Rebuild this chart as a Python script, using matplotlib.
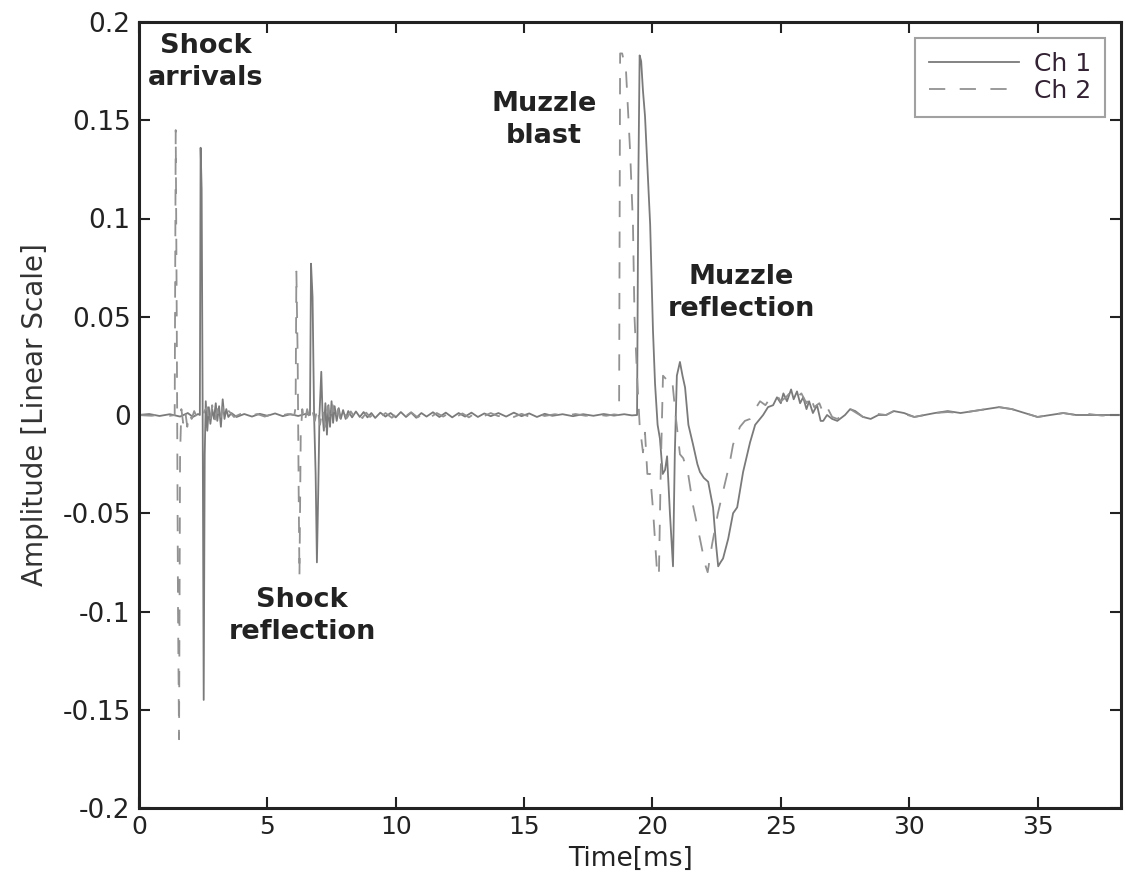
import matplotlib
matplotlib.use("Agg")
import matplotlib.pyplot as plt

# ---------------- data ----------------
ch1_t = [0.00, 0.40, 0.80, 1.20, 1.60, 1.90, 2.10, 2.30,
         2.37, 2.40, 2.44, 2.48, 2.52, 2.56, 2.60, 2.66, 2.72, 2.78, 2.85, 2.92,
         2.99, 3.05, 3.12, 3.19, 3.26, 3.33, 3.40, 3.48, 3.60, 3.80, 4.10, 4.40,
         4.70, 5.00, 5.30, 5.60, 5.90, 6.20, 6.50,
         6.66, 6.70, 6.76, 6.82, 6.88, 6.93, 6.98, 7.03, 7.10, 7.15, 7.20, 7.26,
         7.32, 7.38, 7.44, 7.50, 7.56, 7.62, 7.70, 7.78, 7.86, 7.95, 8.05, 8.15,
         8.30, 8.45, 8.60, 8.75, 8.90, 9.05, 9.20, 9.40, 9.60, 9.80, 10.00, 10.20,
         10.40, 10.60, 10.80, 11.00, 11.20, 11.45, 11.70, 11.95, 12.20, 12.45,
         12.70, 12.95, 13.20, 13.45, 13.70, 14.00, 14.30, 14.60, 14.90, 15.20,
         15.50, 15.80, 16.10, 16.50, 16.90, 17.30, 17.70, 18.10, 18.50, 18.90,
         19.20, 19.40,
         19.45, 19.50, 19.56, 19.63, 19.71, 19.91, 20.02, 20.10, 20.20, 20.29,
         20.40, 20.49, 20.57, 20.68, 20.80, 20.87, 20.95, 21.07, 21.17, 21.27,
         21.40, 21.58, 21.75, 21.85, 22.00, 22.17, 22.36, 22.47, 22.56, 22.65,
         22.75, 22.95, 23.14, 23.30, 23.53, 23.80, 24.00, 24.31, 24.50, 24.70,
         24.85, 25.00, 25.10, 25.24, 25.40, 25.50, 25.63, 25.75, 25.87, 26.00,
         26.10, 26.25, 26.41, 26.55, 26.65, 26.80, 27.00, 27.20, 27.50, 27.70,
         27.90, 28.20, 28.50, 28.80, 29.10, 29.40, 29.80, 30.20, 30.60, 31.00,
         31.50, 32.00, 32.50, 33.00, 33.50, 34.00, 34.50, 35.00, 35.50, 36.00,
         36.50, 37.00, 37.50, 38.25]
ch1_a = [0.0000, 0.0005, -0.0005, 0.0004, -0.0008, 0.0010, -0.0010, 0.0005,
         0.0000, 0.1360, 0.1150, 0.0000, -0.1450, -0.0200, 0.0070, -0.0080, 0.0040, -0.0045, 0.0030, -0.0020,
         0.0060, -0.0030, 0.0045, -0.0060, 0.0080, -0.0020, 0.0030, -0.0010, 0.0010, -0.0010, 0.0005, -0.0008,
         0.0006, -0.0004, 0.0008, -0.0006, 0.0004, -0.0005, 0.0006,
         0.0000, 0.0770, 0.0600, 0.0000, -0.0300, -0.0750, -0.0400, 0.0000, 0.0220, 0.0000, -0.0080, 0.0060,
         -0.0100, 0.0050, -0.0060, 0.0070, -0.0040, 0.0045, -0.0030, 0.0035, -0.0020, 0.0025, -0.0020, 0.0020,
         -0.0012, 0.0018, -0.0010, 0.0015, -0.0012, 0.0010, -0.0015, 0.0012, -0.0008, 0.0010, -0.0012, 0.0015,
         -0.0010, 0.0012, -0.0014, 0.0010, -0.0008, 0.0014, -0.0010, 0.0012, -0.0012, 0.0010,
         -0.0008, 0.0012, -0.0010, 0.0008, -0.0006, 0.0010, -0.0008, 0.0012, -0.0006, 0.0008,
         -0.0010, 0.0006, -0.0004, 0.0004, -0.0006, 0.0004, -0.0004, 0.0005, -0.0003, 0.0004,
         -0.0002, 0.0000,
         0.1200, 0.1830, 0.1800, 0.1650, 0.1520, 0.0970, 0.0430, 0.0160, -0.0050, -0.0120,
         -0.0300, -0.0280, -0.0210, -0.0500, -0.0770, -0.0200, 0.0200, 0.0270, 0.0200, 0.0140,
         -0.0050, -0.0150, -0.0250, -0.0290, -0.0320, -0.0340, -0.0470, -0.0650, -0.0770, -0.0750,
         -0.0730, -0.0630, -0.0500, -0.0470, -0.0290, -0.0140, -0.0050, 0.0000, 0.0040, 0.0050,
         0.0090, 0.0060, 0.0110, 0.0070, 0.0130, 0.0080, 0.0120, 0.0060, 0.0090, 0.0030,
         0.0070, 0.0010, 0.0050, -0.0030, -0.0030, 0.0000, -0.0020, -0.0030, 0.0000, 0.0030,
         0.0020, -0.0010, -0.0020, 0.0000, 0.0000, 0.0020, 0.0010, -0.0010, 0.0000, 0.0010,
         0.0020, 0.0010, 0.0020, 0.0030, 0.0040, 0.0030, 0.0010, -0.0010, 0.0000, 0.0010,
         0.0000, 0.0000, 0.0000, 0.0000]

ch2_t = [0.00, 0.50, 0.90, 1.20, 1.39,
         1.43, 1.47, 1.52, 1.56, 1.60, 1.65, 1.72, 1.80, 1.88, 1.96, 2.05, 2.15,
         2.25, 2.35, 2.45, 2.55, 2.65, 2.75, 2.85, 2.95, 3.05, 3.15, 3.25, 3.35,
         3.50, 3.70, 4.00, 4.30, 4.60, 4.90, 5.20, 5.50, 5.80, 6.05,
         6.10, 6.13, 6.18, 6.22, 6.25, 6.30, 6.36, 6.45, 6.55, 6.65, 6.75, 6.85,
         6.95, 7.05, 7.15, 7.25, 7.35, 7.45, 7.55, 7.65, 7.75, 7.85, 7.95, 8.10,
         8.25, 8.40, 8.55, 8.70, 8.85, 9.00, 9.20, 9.40, 9.60, 9.85, 10.10, 10.35,
         10.60, 10.85, 11.10, 11.35, 11.60, 11.85, 12.10, 12.35, 12.60, 12.85,
         13.10, 13.40, 13.70, 14.00, 14.30, 14.60, 14.90, 15.20, 15.50, 15.80,
         16.20, 16.60, 17.00, 17.40, 17.80, 18.20, 18.50, 18.70,
         18.74, 18.82, 18.97, 19.13, 19.24, 19.30, 19.40, 19.50, 19.63, 19.71,
         19.80, 19.91, 20.02, 20.18, 20.25, 20.32, 20.41, 20.55, 20.76, 20.90,
         21.07, 21.20, 21.39, 21.58, 21.85, 22.05, 22.15, 22.32, 22.55, 22.75,
         22.91, 23.00, 23.14, 23.41, 23.60, 23.80, 24.00, 24.19, 24.40, 24.60,
         24.85, 25.00, 25.20, 25.40, 25.63, 25.80, 26.00, 26.14, 26.30, 26.50,
         26.65, 26.80, 27.00, 27.20, 27.50, 27.70, 27.95, 28.20, 28.50, 28.80,
         29.10, 29.40, 29.80, 30.20, 30.60, 31.00, 31.50, 32.00, 32.50, 33.00,
         33.50, 34.00, 34.50, 35.00, 35.50, 36.00, 36.50, 37.00, 37.50, 38.25]
ch2_a = [0.0000, -0.0004, 0.0005, -0.0004, 0.0000,
         0.1450, 0.0500, -0.1000, -0.1650, -0.0200, 0.0030, -0.0040, 0.0020, -0.0060, 0.0010, -0.0020, 0.0020,
         -0.0010, 0.0005, -0.0015, 0.0020, 0.0040, -0.0050, 0.0050, -0.0030, 0.0030, -0.0040, 0.0040, -0.0020,
         0.0020, -0.0010, 0.0008, -0.0006, 0.0005, -0.0008, 0.0006, -0.0004, 0.0005, 0.0000,
         0.0040, 0.0730, 0.0300, -0.0400, -0.0820, -0.0100, 0.0030, -0.0040, 0.0030, -0.0020, 0.0025, -0.0030,
         0.0040, -0.0050, 0.0035, -0.0060, 0.0045, -0.0040, 0.0050, -0.0030, 0.0030, -0.0025, 0.0020, -0.0015,
         0.0018, -0.0012, 0.0014, -0.0016, 0.0012, -0.0010, 0.0014, -0.0012, 0.0010, -0.0014, 0.0012, -0.0010,
         0.0014, -0.0012, 0.0009, -0.0012, 0.0010, -0.0008, 0.0012, -0.0010, 0.0008, -0.0012,
         0.0010, -0.0008, 0.0010, -0.0006, 0.0008, -0.0010, 0.0006, -0.0008, 0.0008, -0.0005,
         0.0004, -0.0004, 0.0005, -0.0004, 0.0003, -0.0004, 0.0003, 0.0000,
         0.1840, 0.1840, 0.1750, 0.1340, 0.0970, 0.0500, 0.0200, -0.0050, -0.0190, -0.0090,
         -0.0300, -0.0300, -0.0480, -0.0800, -0.0820, -0.0300, 0.0200, 0.0180, 0.0190, 0.0000,
         -0.0200, -0.0220, -0.0300, -0.0460, -0.0630, -0.0760, -0.0800, -0.0660, -0.0500, -0.0390,
         -0.0300, -0.0250, -0.0150, -0.0060, -0.0030, -0.0020, 0.0030, 0.0070, 0.0050, 0.0090,
         0.0100, 0.0070, 0.0090, 0.0120, 0.0090, 0.0110, 0.0060, 0.0100, 0.0040, 0.0060,
         0.0010, 0.0040, -0.0010, -0.0020, 0.0010, 0.0030, 0.0010, -0.0010, -0.0015, 0.0005,
         0.0000, 0.0020, 0.0005, -0.0010, 0.0000, 0.0010, 0.0015, 0.0010, 0.0020, 0.0030,
         0.0040, 0.0030, 0.0010, -0.0010, 0.0000, 0.0010, 0.0000, 0.0005, -0.0003, 0.0000]

series_labels = ["Ch 1", "Ch 2"]
x_ticks = [0, 5, 10, 15, 20, 25, 30, 35]
y_ticks = [-0.2, -0.15, -0.1, -0.05, 0, 0.05, 0.1, 0.15, 0.2]
y_tick_labels = ["-0.2", "-0.15", "-0.1", "-0.05", "0", "0.05", "0.1", "0.15", "0.2"]

annotations = [
    ("Shock\narrivals", 2.61, 0.1796),
    ("Shock\nreflection", 6.35, -0.1023),
    ("Muzzle\nblast", 15.78, 0.150),
    ("Muzzle\nreflection", 23.45, 0.062),
]

# ---------------- figure ----------------
plt.rcParams['font.family'] = ['DejaVu Sans']
fig = plt.figure(figsize=(11.26, 8.77), dpi=100)
ax = fig.add_axes([139 / 1126, 1 - 808 / 877, (1121 - 139) / 1126, (808 - 22) / 877])

ax.plot(ch1_t, ch1_a, color='#7a7a7a', lw=1.3, linestyle='-', label=series_labels[0])
ax.plot(ch2_t, ch2_a, color='#929292', lw=1.3, linestyle=(0, (9, 8)), label=series_labels[1])

ax.set_xlim(0, 38.25)
ax.set_ylim(-0.2, 0.2)
ax.set_xticks(x_ticks)
ax.set_xticklabels([str(v) for v in x_ticks], fontsize=18, color='#222222')
ax.set_yticks(y_ticks)
ax.set_yticklabels(y_tick_labels, fontsize=19, color='#222222')
ax.tick_params(direction='in', length=8, width=1.5, top=True, right=True, color='#222222')
ax.tick_params(axis='y', pad=6)
ax.tick_params(axis='x', pad=5)
for s in ax.spines.values():
    s.set_linewidth(2.2)
    s.set_color('#222222')

ax.set_xlabel("Time[ms]", fontsize=19, color='#222222', labelpad=5)
ax.set_ylabel("Amplitude [Linear Scale]", fontsize=20, color='#333333', labelpad=10)

for txt, tx, ty in annotations:
    ax.text(tx, ty, txt, fontsize=19.5, fontweight='bold', color='#222222',
            ha='center', va='center', linespacing=1.3)

leg = ax.legend(loc='upper right', fontsize=18, handlelength=3.6, frameon=True,
                fancybox=False, borderaxespad=0.65, labelspacing=0.12,
                borderpad=0.55, handletextpad=0.6)
leg.get_frame().set_edgecolor('#8a8a8a')
leg.get_frame().set_linewidth(1.5)
for t in leg.get_texts():
    t.set_color('#332233')

fig.savefig("out.png", dpi=100)
